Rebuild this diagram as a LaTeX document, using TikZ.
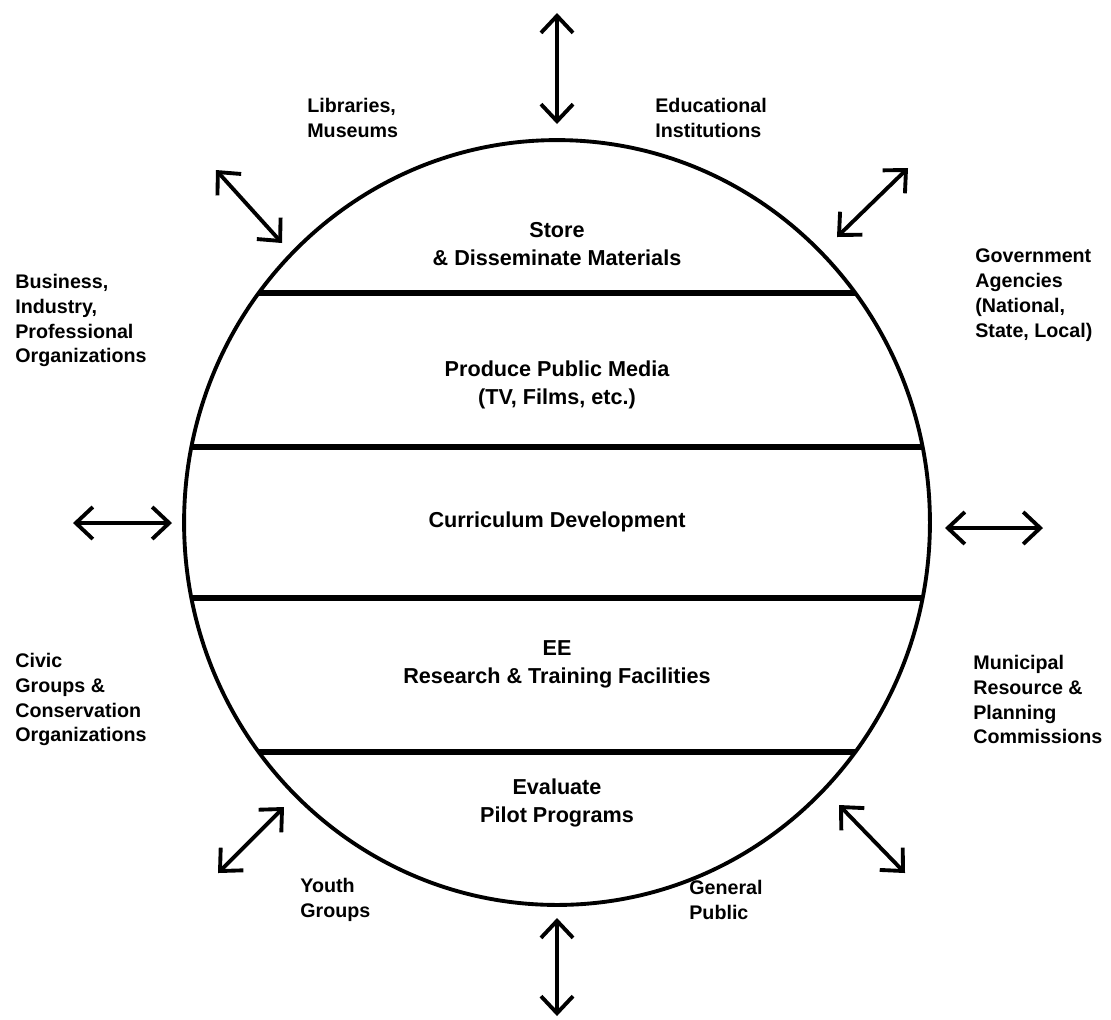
\documentclass[tikz,border=0pt]{standalone}
\usepackage{fontspec}
\setmainfont{Liberation Sans}
\usetikzlibrary{arrows.meta}

\begin{document}
\begin{tikzpicture}[x=0.02cm, y=-0.02cm, >={Straight Barb[length=3.4mm, width=6.4mm]},
  outer/.style={font=\bfseries\fontsize{11.2}{14.2}\selectfont, align=left, anchor=west, inner sep=0pt},
  band/.style={font=\bfseries\fontsize{12.3}{16}\selectfont, align=center, inner sep=0pt},
  link/.style={<->, line width=2.2pt},
  divider/.style={line width=3.4pt}]
\useasboundingbox (0,0) rectangle (1111,1019);

% the globe and its bands
\coordinate (c) at (557,522.5);
\draw [line width=2.2pt] (c) ellipse [x radius=7.46cm, y radius=7.65cm];
\draw [divider] (258.6,293) -- (855.4,293);
\draw [divider] (191.3,447) -- (922.7,447);
\draw [divider] (191.3,598) -- (922.7,598);
\draw [divider] (258.6,752) -- (855.4,752);

\node [band] (store) at (557,244) {Store\\\& Disseminate Materials};
\node [band] (media) at (557,385) {Produce Public Media\\(TV, Films, etc.)};
\node [band] (curric) at (557,522) {Curriculum Development};
\node [band] (ee) at (557,664) {EE\\Research \& Training Facilities};
\node [band] (evalpp) at (557,803) {Evaluate\\Pilot Programs};

% partners round the globe
\node [outer] (libs) at (307,118) {Libraries,\\Museums};
\node [outer] (edu) at (655,118) {Educational\\Institutions};
\node [outer] (business) at (15,320.5) {Business,\\Industry,\\Professional\\Organizations};
\node [outer] (govt) at (975,295.5) {Government\\Agencies\\(National,\\State, Local)};
\node [outer] (civic) at (15,699.5) {Civic\\Groups \&\\Conservation\\Organizations};
\node [outer] (muni) at (973,699.5) {Municipal\\Resource \&\\Planning\\Commissions};
\node [outer] (youth) at (300,899.5) {Youth\\Groups};
\node [outer] (public) at (689,899.5) {General\\Public};

% arrow ends
\coordinate (n1) at (557,13);   \coordinate (n2) at (557,124);
\coordinate (s1) at (557,918);  \coordinate (s2) at (557,1016);
\coordinate (w1) at (73,523);   \coordinate (w2) at (172,523);
\coordinate (e1) at (945,528);  \coordinate (e2) at (1043,528);
\coordinate (nw1) at (216,170); \coordinate (nw2) at (282,243);
\coordinate (ne1) at (837,237); \coordinate (ne2) at (908,168);
\coordinate (sw1) at (284,807); \coordinate (sw2) at (218,873);
\coordinate (se1) at (839,805); \coordinate (se2) at (905,873);

\path
(n1) edge [link] (n2)
(s1) edge [link] (s2)
(w1) edge [link] (w2)
(e1) edge [link] (e2)
(nw1) edge [link] (nw2)
(ne1) edge [link] (ne2)
(sw1) edge [link] (sw2)
(se1) edge [link] (se2);

\end{tikzpicture}
\end{document}
